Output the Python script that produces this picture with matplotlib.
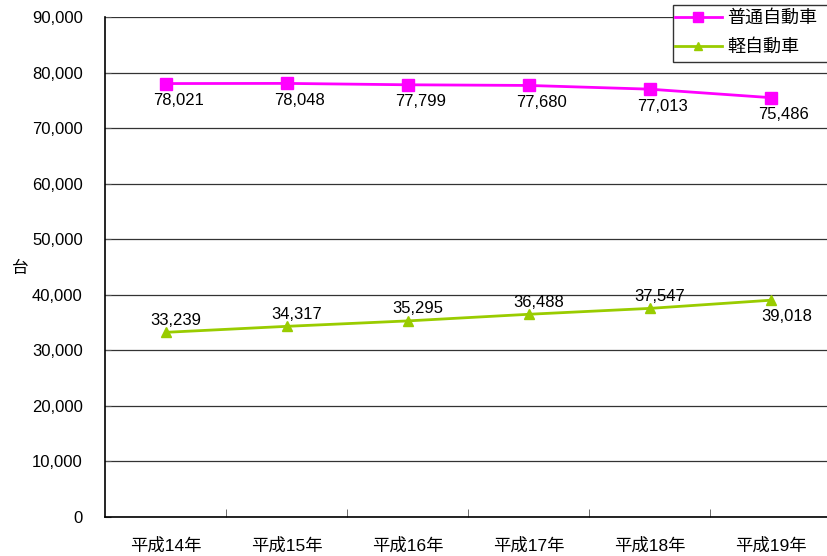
import matplotlib
matplotlib.use("Agg")
import matplotlib.pyplot as plt
from matplotlib.patches import Rectangle
from matplotlib.ticker import FuncFormatter, FixedLocator

plt.rcParams['font.family'] = ['Liberation Sans', 'Noto Sans CJK JP', 'DejaVu Sans']

years = ["平成14年", "平成15年", "平成16年", "平成17年", "平成18年", "平成19年"]
futsu = [78021, 78048, 77799, 77680, 77013, 75486]
kei = [33239, 34317, 35295, 36488, 37547, 39018]
series_names = ["普通自動車", "軽自動車"]
y_label = "台"

W, H = 827, 556
fig = plt.figure(figsize=(W / 100, H / 100), dpi=100)
ax = fig.add_axes([105 / W, 39 / H, 726 / W, 500 / H])

x = list(range(len(years)))
pink = "#FF00FF"
green = "#99CC00"

ax.plot(x, futsu, color=pink, lw=2, marker="s", ms=9, mec=pink, mfc=pink,
        label=series_names[0], zorder=4)
ax.plot(x, kei, color=green, lw=2, marker="^", ms=7, mec=green, mfc=green,
        label=series_names[1], zorder=4)

lab_kw = dict(fontsize=12, ha="center", va="center", color="black", zorder=5)
for i, v in enumerate(futsu):
    ax.annotate(f"{v:,}", (i, v), xytext=(13, -17), textcoords="offset pixels", **lab_kw)
for i, v in enumerate(kei):
    if i == len(kei) - 1:
        ax.annotate(f"{v:,}", (i, v), xytext=(16, -16), textcoords="offset pixels", **lab_kw)
    else:
        ax.annotate(f"{v:,}", (i, v), xytext=(10, 12), textcoords="offset pixels", **lab_kw)

ax.set_xlim(-0.5, len(years) - 0.5)
ax.set_ylim(0, 90000)
ax.set_yticks(range(0, 90001, 10000))
ax.yaxis.set_major_formatter(FuncFormatter(lambda v, p: f"{int(v):,}"))
ax.set_xticks(x)
ax.set_xticklabels(years, fontsize=12.5)
ax.xaxis.set_minor_locator(FixedLocator([i + 0.5 for i in range(len(years) - 1)]))
ax.tick_params(axis="x", which="major", length=0, pad=15)
ax.tick_params(axis="x", which="minor", length=6, direction="in", color="#555555")
ax.tick_params(axis="y", length=4, direction="in", labelsize=12, pad=16, color="#555555")

ax.grid(axis="y", color="#333333", lw=0.9)
ax.set_axisbelow(True)
for s in ["top", "right"]:
    ax.spines[s].set_visible(False)
ax.spines["left"].set_color("black")
ax.spines["bottom"].set_color("black")
ax.spines["left"].set_linewidth(1.2)
ax.spines["bottom"].set_linewidth(1.2)

fig.text(20 / W, 1 - 268 / H, y_label, fontsize=12, ha="center", va="center",
         rotation=0, family=["Noto Sans CJK JP"])

# legend box runs off the right edge of the figure
ax.add_patch(Rectangle((673 / W, 1 - 62 / H), 170 / W, 57 / H,
                       transform=fig.transFigure, facecolor="white",
                       edgecolor="#333333", lw=1.0, zorder=10, clip_on=False))
leg = ax.legend(loc="upper left", bbox_to_anchor=(675 / W, 1 - 9 / H),
                bbox_transform=fig.transFigure, frameon=False,
                borderpad=0.0, handlelength=2.6, labelspacing=0.6,
                handletextpad=0.3, borderaxespad=0.0, markerscale=0.75,
                prop={"family": ["Noto Sans CJK JP"], "size": 13})
leg.set_zorder(11)

fig.savefig("out.png", dpi=100)
